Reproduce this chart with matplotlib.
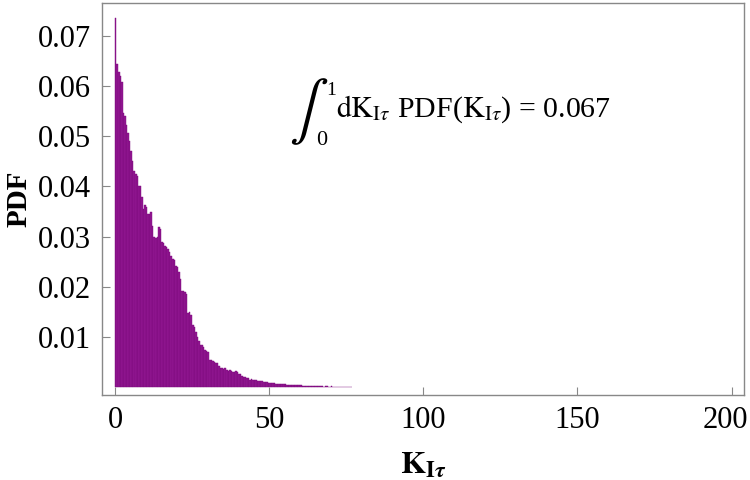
import numpy as np
import matplotlib
matplotlib.use("Agg")
import matplotlib.pyplot as plt
from matplotlib.transforms import ScaledTranslation

plt.rcParams['font.family'] = ['Liberation Serif', 'DejaVu Serif']
plt.rcParams['mathtext.fontset'] = 'stix'

# histogram of K_Itau, bins of width 0.5 starting at 0
bin_width = 0.5
pdf_values = [
    0.0735, 0.0643, 0.0627, 0.0619, 0.0607, 0.0545, 0.0541, 0.0522, 0.0507, 0.0490,
    0.0470, 0.0450, 0.0430, 0.0425, 0.0420, 0.0400, 0.0400, 0.0378, 0.0355, 0.0362,
    0.0360, 0.0345, 0.0345, 0.0350, 0.0322, 0.0300, 0.0298, 0.0300, 0.0320, 0.0315,
    0.0290, 0.0288, 0.0282, 0.0280, 0.0275, 0.0270, 0.0262, 0.0255, 0.0253, 0.0242,
    0.0240, 0.0229, 0.0215, 0.0192, 0.0192, 0.0190, 0.0185, 0.0149, 0.0150, 0.0145,
    0.0125, 0.0120, 0.0110, 0.0100, 0.0092, 0.0085, 0.0084, 0.0080, 0.0075, 0.0072,
    0.0070, 0.0055, 0.0055, 0.0052, 0.0050, 0.0049, 0.0048, 0.0042, 0.0039, 0.0039,
    0.0036, 0.0038, 0.0034, 0.0032, 0.0034, 0.0033, 0.0031, 0.0030, 0.0032, 0.0031,
    0.0027, 0.0026, 0.0022, 0.0021, 0.0020, 0.0019, 0.0018, 0.0015, 0.0016, 0.0015,
    0.0014, 0.0014, 0.0013, 0.0013, 0.0012, 0.0012, 0.0011, 0.0011, 0.0010, 0.0009,
    0.0009, 0.0008, 0.0008, 0.0008, 0.0007, 0.0007, 0.0007, 0.0006, 0.0006, 0.0006,
    0.0006, 0.0005, 0.0005, 0.0005, 0.0005, 0.0005, 0.0005, 0.0004, 0.0004, 0.0004,
    0.0004, 0.0003, 0.0003, 0.0003, 0.0003, 0.0003, 0.0003, 0.0002, 0.0003, 0.0002,
    0.0002, 0.0002, 0.0002, 0.0002, 0.0002, 0.0001, 0.0002, 0.0002, 0.0001, 0.0001,
    0.0002, 0.0001, 0.0001, 0.0000, 0.0001, 0.0001, 0.0000, 0.0001, 0.0001, 0.0000,
    0.0001, 0.0000, 0.0001, 0.0001,
]
bin_edges = np.arange(len(pdf_values)) * bin_width

x_ticks = [0, 50, 100, 150, 200]
y_ticks = [0.01, 0.02, 0.03, 0.04, 0.05, 0.06, 0.07]
y_tick_labels = ["0.01", "0.02", "0.03", "0.04", "0.05", "0.06", "0.07"]
annot_body = r"$\mathrm{dK}_{\mathrm{I}\tau}$ PDF($\mathrm{K}_{\mathrm{I}\tau}$) = 0.067"
annot_lower, annot_upper = "0", "1"

fig = plt.figure(figsize=(7.5, 4.8), dpi=100)
ax = fig.add_axes([0.136, 0.177, 0.856, 0.817])

ax.bar(bin_edges, pdf_values, width=bin_width, align='edge',
       color='#931893', edgecolor='#7a087a', linewidth=0.3)

ax.set_xlim(-4.2, 204)
ax.set_ylim(-0.0015, 0.0765)
ax.set_xticks(x_ticks)
ax.set_yticks(y_ticks)
ax.set_yticklabels(y_tick_labels)
ax.tick_params(direction='in', length=6, width=0.8, color='#888888',
               labelsize=22, pad=8)
for s in ax.spines.values():
    s.set_color('#888888')
    s.set_linewidth(1.0)

# last x label sits right at the figure edge, pull it in a little
fig.canvas.draw()
last = ax.get_xticklabels()[-1]
last.set_transform(last.get_transform() + ScaledTranslation(-0.06, 0, fig.dpi_scale_trans))

ax.set_xlabel(r"$\mathbf{K}_{\mathbf{I}\boldsymbol{\tau}}$", fontsize=23, labelpad=12)
ax.set_ylabel("PDF", fontsize=21, fontweight='bold', labelpad=4)

# integral annotation, built from pieces so the integral sign can be tall
ax.text(0.292, 0.722, r"$\int$", transform=ax.transAxes, fontsize=42,
        ha='left', va='center')
ax.text(0.350, 0.798, annot_upper, transform=ax.transAxes, fontsize=14,
        ha='left', va='top')
ax.text(0.333, 0.638, annot_lower, transform=ax.transAxes, fontsize=16,
        ha='left', va='baseline')
ax.text(0.364, 0.710, annot_body, transform=ax.transAxes, fontsize=21.5,
        ha='left', va='baseline')

fig.savefig("out.png", dpi=100)
